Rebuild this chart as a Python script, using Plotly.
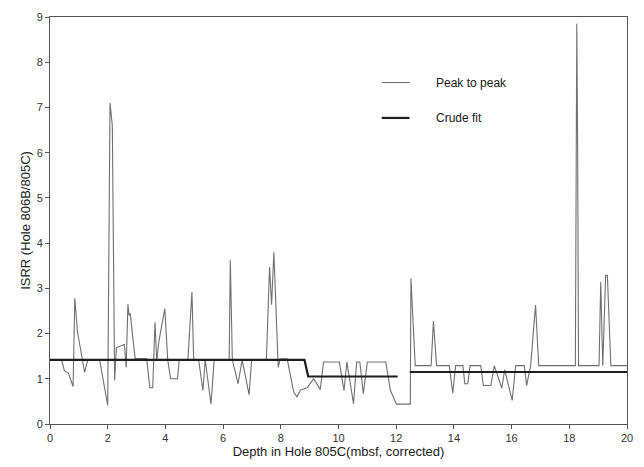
import plotly.graph_objects as go

# Interstratal sedimentation-rate ratio versus corrected depth
depth = [0.00, 0.40, 0.50, 0.64, 0.80, 0.86, 0.95, 1.20, 1.31, 1.72,
         2.00, 2.08, 2.16, 2.24, 2.30, 2.58, 2.64, 2.70, 2.74, 2.78,
         2.95, 3.35, 3.46, 3.56, 3.64, 3.70, 3.78, 3.98, 4.08, 4.18,
         4.42, 4.48, 4.78, 4.92, 4.98, 5.15, 5.30, 5.38, 5.58, 5.69,
         6.21, 6.25, 6.32, 6.52, 6.66, 6.90, 6.99, 7.50, 7.61, 7.68,
         7.76, 7.91, 7.98, 8.22, 8.45, 8.56, 8.68, 8.91, 9.14, 9.37,
         9.48, 10.03, 10.19, 10.29, 10.52, 10.63, 10.74, 10.86, 11.00, 11.64,
         11.80, 12.01, 12.49, 12.51, 12.66, 13.21, 13.29, 13.40, 13.84, 13.96,
         14.06, 14.31, 14.38, 14.48, 14.56, 14.93, 15.02, 15.28, 15.40, 15.66,
         15.76, 16.02, 16.14, 16.44, 16.52, 16.66, 16.83, 16.94, 18.21, 18.26,
         18.29, 18.32, 19.03, 19.09, 19.16, 19.26, 19.32, 19.44, 20.00]
peak_to_peak = [1.42, 1.42, 1.18, 1.12, 0.83, 2.78, 2.05, 1.14, 1.42, 1.42,
                0.41, 7.10, 6.60, 0.96, 1.69, 1.76, 1.25, 2.65, 2.40, 2.45,
                1.45, 1.45, 0.80, 0.80, 2.25, 1.40, 1.85, 2.55, 1.42, 1.00,
                1.00, 1.42, 1.42, 2.92, 1.42, 1.42, 0.74, 1.42, 0.44, 1.42,
                1.42, 3.62, 1.42, 0.89, 1.42, 0.65, 1.42, 1.42, 3.47, 2.64,
                3.80, 1.25, 1.44, 1.44, 0.70, 0.60, 0.75, 0.80, 1.00, 0.76,
                1.37, 1.37, 0.74, 1.37, 0.45, 1.37, 1.37, 0.67, 1.37, 1.37,
                0.74, 0.44, 0.44, 3.22, 1.29, 1.29, 2.27, 1.29, 1.29, 0.68,
                1.29, 1.29, 0.89, 0.89, 1.29, 1.29, 0.85, 0.85, 1.29, 0.79,
                1.20, 0.52, 1.29, 1.29, 0.85, 1.29, 2.63, 1.29, 1.29, 8.85,
                6.00, 1.29, 1.29, 3.14, 1.29, 3.29, 3.29, 1.29, 1.29]

# Step-wise crude fit (None breaks the line between the two sections)
fit_depth = [0.00, 8.82, 8.95, 12.05, None, 12.47, 20.00]
fit_ratio = [1.42, 1.42, 1.05, 1.05, None, 1.15, 1.15]

x_ticks = [0, 2, 4, 6, 8, 10, 12, 14, 16, 18, 20]
y_ticks = [0, 1, 2, 3, 4, 5, 6, 7, 8, 9]

font = "Liberation Sans, Arial, sans-serif"
ptp_style = dict(color="#707070", width=1.1)
fit_style = dict(color="#1e1e1e", width=2.2)

fig = go.Figure()
fig.add_trace(go.Scatter(
    x=depth, y=peak_to_peak, mode="lines", name="Peak to peak",
    line=ptp_style, showlegend=False))
fig.add_trace(go.Scatter(
    x=fit_depth, y=fit_ratio, mode="lines", name="Crude fit",
    line=fit_style, connectgaps=False, showlegend=False))

# Key: short sample lines with their labels, placed in paper coordinates
key_entries = [("Peak to peak", ptp_style, 0.839), ("Crude fit", fit_style, 0.752)]
for label, style, ypos in key_entries:
    fig.add_shape(type="line", xref="paper", yref="paper",
                  x0=0.575, x1=0.623, y0=ypos, y1=ypos,
                  line=dict(color=style["color"], width=style["width"]))
    fig.add_annotation(xref="paper", yref="paper", x=0.666, y=ypos,
                       xanchor="left", yanchor="middle", showarrow=False,
                       text=label,
                       font=dict(family=font, size=12, color="#1a1a1a"))

axis_common = dict(
    showgrid=False, zeroline=False, showline=True, mirror=True,
    linecolor="#555555", linewidth=1, ticks="outside", ticklen=4,
    tickcolor="#555555", tickfont=dict(family=font, size=11, color="#333333"))

fig.update_xaxes(range=[0, 20], tickvals=x_ticks,
                 title=dict(text="Depth in Hole 805C(mbsf, corrected)",
                            font=dict(family=font, size=13, color="#222222"),
                            standoff=3),
                 **axis_common)
fig.update_yaxes(range=[0, 9], tickvals=y_ticks,
                 title=dict(text="ISRR (Hole 806B/805C)",
                            font=dict(family=font, size=13, color="#222222"),
                            standoff=3),
                 **axis_common)

fig.update_layout(
    width=644, height=467,
    margin=dict(l=50, r=11, t=12, b=43),
    paper_bgcolor="white", plot_bgcolor="white",
    font=dict(family=font),
    showlegend=False,
)

fig.write_html("out.html")
